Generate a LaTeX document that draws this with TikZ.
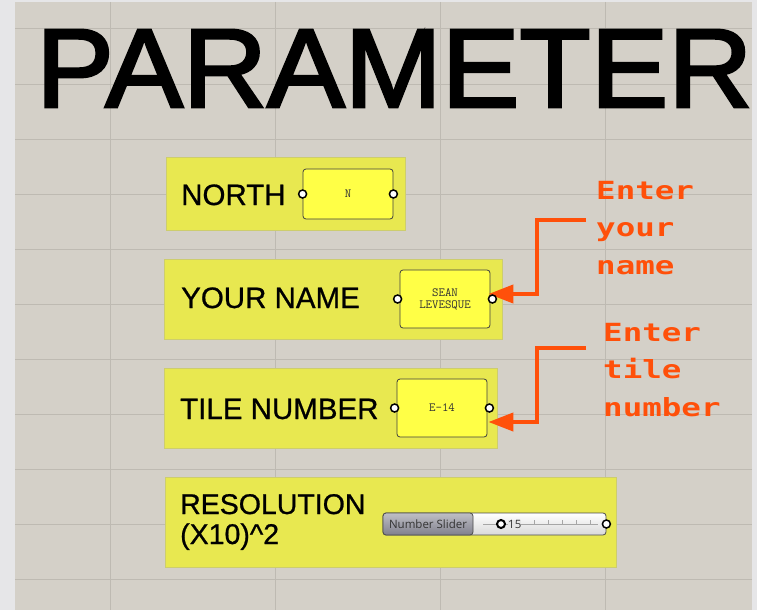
\documentclass[tikz,border=0pt]{standalone}
\usepackage{fontspec}
\setmainfont{Liberation Sans}
\newfontfamily\titlefont[FakeStretch=1.04,FakeBold=2.5]{Liberation Sans}
\newfontfamily\labelfont[FakeBold=0.8]{Liberation Sans}
\newfontfamily\notefont[FakeStretch=1.3]{DejaVu Sans Mono}
\newfontfamily\sliderfont{Open Sans}
\usetikzlibrary{positioning, arrows.meta}

\definecolor{canvas}{RGB}{212,208,200}
\definecolor{frame}{RGB}{230,230,232}
\definecolor{gridc}{RGB}{190,186,178}
\definecolor{panelc}{RGB}{232,232,80}
\definecolor{paneledge}{RGB}{205,205,110}
\definecolor{boxc}{RGB}{255,255,70}
\definecolor{cue}{RGB}{255,80,10}

\begin{document}
\begin{tikzpicture}[
  x=1pt, y=-1pt,
  gridline/.style={draw=gridc, line width=1pt},
  panel/.style={draw=paneledge, fill=panelc, line width=1pt, inner sep=0pt},
  label/.style={anchor=base west, inner sep=0pt, font=\labelfont\fontsize{29.5}{30}\selectfont},
  valbox/.style={draw=black!75, fill=boxc, rounded corners=3pt, minimum width=90pt, line width=0.8pt, text=black!80, font=\ttfamily\fontsize{12.5}{12}\selectfont, align=center},
  port/.style={circle, draw=black, fill=white, line width=1.5pt, minimum size=8pt, inner sep=0pt},
  callout/.style={draw=cue, line width=4pt, -{Triangle[length=25pt,width=18pt]}},
  note/.style={anchor=north west, inner sep=0pt, align=left, text=cue, font=\notefont\bfseries\fontsize{25}{37.5}\selectfont}
]
  \useasboundingbox (0,0) rectangle (757,610);
  \fill[frame] (0,0) rectangle (757,610);
  \fill[canvas] (15,2) rectangle (752,610);
  \foreach \x in {110,275,440,605}
    \draw[gridline] (\x,2) -- (\x,610);
  \foreach \y in {29,84,...,579}
    \draw[gridline] (15,\y) -- (752,\y);

  \begin{scope}
    \clip (15,2) rectangle (752,610);
    \node[anchor=base west, inner sep=0pt, font=\titlefont\fontsize{112}{112}\selectfont] (title) at (36,107) {PARAMETER};
  \end{scope}

  % panels
  \node[panel, minimum width=239pt, minimum height=73pt] (northp) at (285.5,193.5) {};
  \node[panel, minimum width=338pt, minimum height=80pt] (namep) at (333,299) {};
  \node[panel, minimum width=333pt, minimum height=80pt] (tilep) at (330.5,408) {};
  \node[panel, minimum width=451pt, minimum height=90pt] (resp) at (390.5,522) {};

  \node[label] (northl) at (181,205) {NORTH};
  \node[label] (namel) at (181,308) {YOUR NAME};
  \node[label] (tilel) at (180,419) {TILE NUMBER};
  \node[label, align=left, font=\labelfont\fontsize{28.5}{30}\selectfont] (resl) at (180,544) {RESOLUTION\\(X10)\^{}2};

  % value boxes
  \node[valbox, minimum height=50pt] (northv) at (348,194) {N};
  \node[valbox, minimum height=58pt] (namev) at (445,299) {SEAN\\LEVESQUE};
  \node[valbox, minimum height=58pt] (tilev) at (442,408) {E-14};

  % slider
  \node[draw=black!70, rounded corners=3pt, top color=white, bottom color=black!15, minimum width=223pt, minimum height=22pt, inner sep=0pt, line width=0.8pt] (slider) at (494.5,524) {};
  \node[draw=black!70, rounded corners=3pt, top color=blue!10!black!25, bottom color=blue!10!black!50, minimum width=90pt, minimum height=22pt, inner sep=0pt, line width=0.8pt, font=\sliderfont\fontsize{11.5}{12}\selectfont, text=black!80] (sliderl) at (428,524) {Number Slider};
  \draw[black!35, line width=0.6pt] (483,524) -- (598,524);
  \foreach \t in {520,534,...,592}
    \draw[black!35, line width=0.6pt] (\t,520) -- (\t,524);
  \node[circle, draw=black, fill=white, line width=2pt, minimum size=8pt, inner sep=0pt] (knob) at (501,524) {};
  \node[anchor=west, inner sep=0pt, xshift=2pt, fill=white!90!black, font=\sliderfont\fontsize{11.5}{12}\selectfont, text=black!80] (sliderv) at (knob.east) {15};

  % callouts
  \coordinate (namecue) at (586,220);
  \coordinate (tilecue) at (586,348);
  \draw[callout] (namecue) -- ++(-49,0) |- ([xshift=-2pt,yshift=5pt]namev.east);
  \draw[callout] (tilecue) -- ++(-49,0) |- ([xshift=1pt,yshift=-14pt]tilev.east);

  % ports
  \node[port] (northin) at (northv.west) {};
  \node[port] (northout) at (northv.east) {};
  \node[port] (namein) at ([xshift=-2pt]namev.west) {};
  \node[port] (nameout) at ([xshift=2pt]namev.east) {};
  \node[port] (tilein) at ([xshift=-2pt]tilev.west) {};
  \node[port] (tileout) at ([xshift=2pt]tilev.east) {};
  \node[port] (sliderout) at (slider.east) {};

  \node[note] (namenote) at (596,181) {Enter\\your\\name};
  \node[note] (tilenote) at (603,323) {Enter\\tile\\number};
\end{tikzpicture}
\end{document}
